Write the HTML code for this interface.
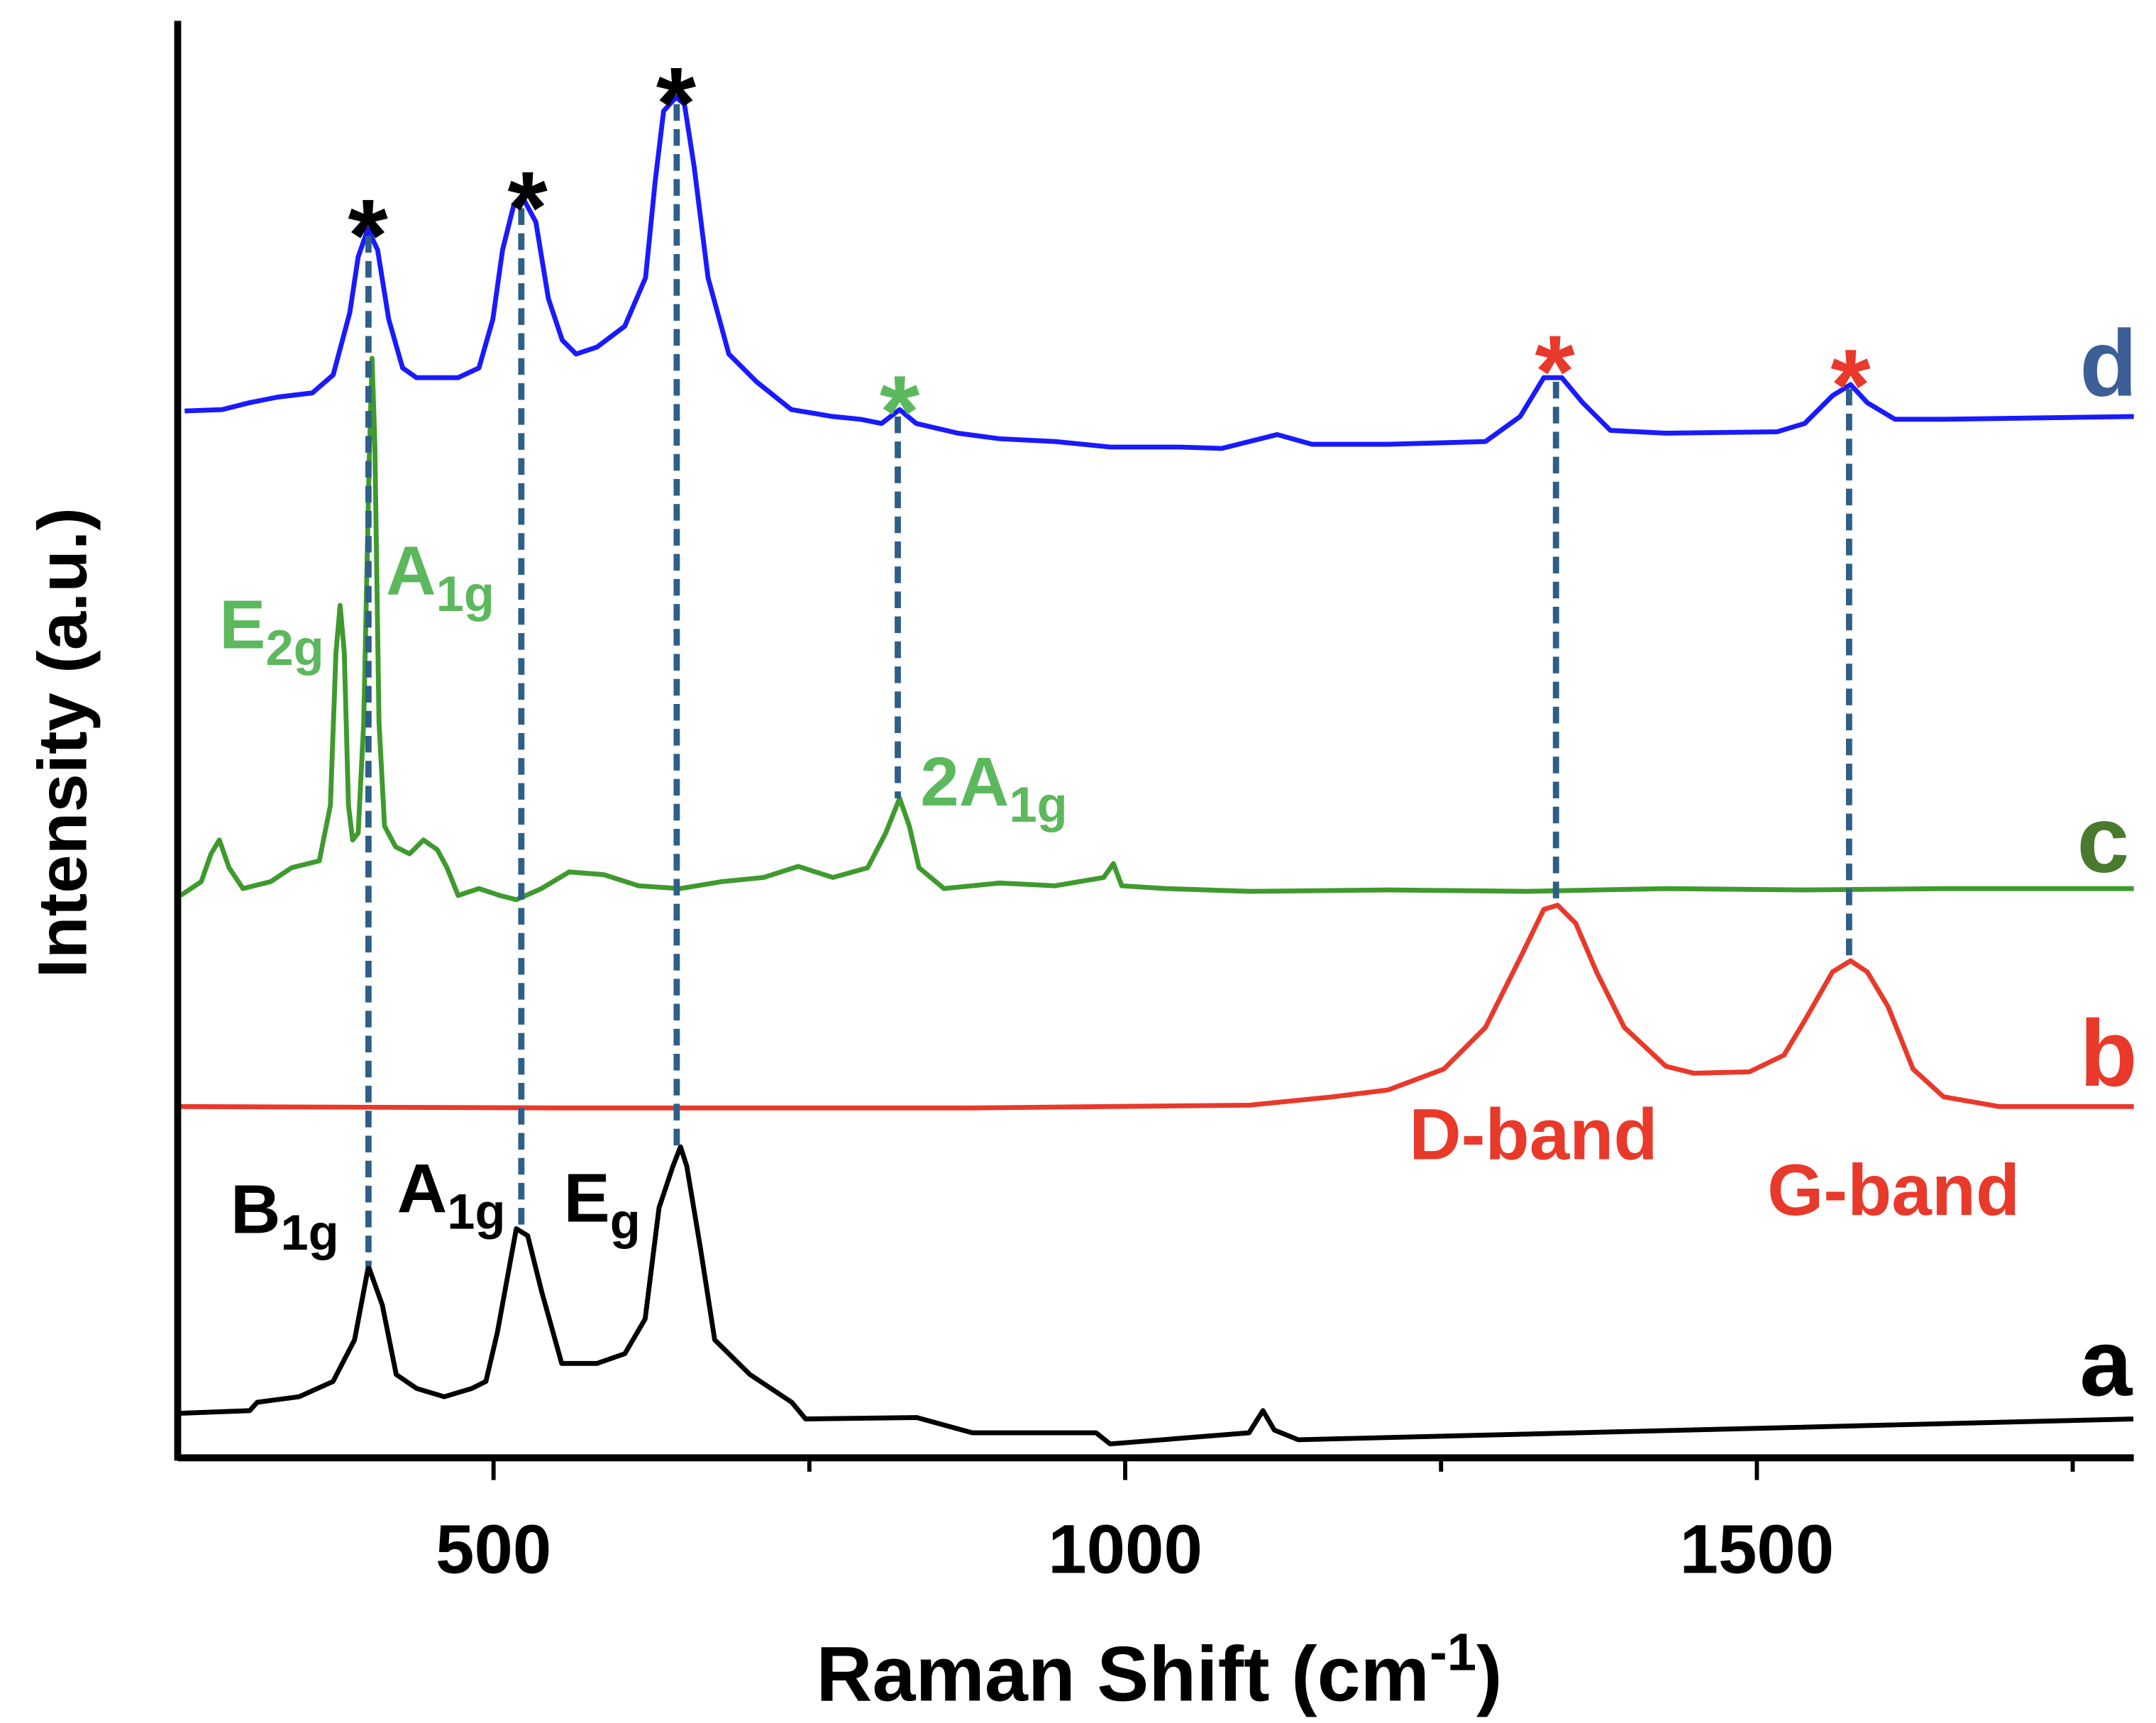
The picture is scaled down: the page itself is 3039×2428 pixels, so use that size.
<!DOCTYPE html>
<html><head><meta charset="utf-8"><style>html,body{margin:0;padding:0;background:#fff}svg{display:block}text{font-family:"Liberation Sans",Arial,sans-serif;font-weight:bold}</style></head>
<body>
<svg id="chart" width="3039" height="2428" viewBox="0 0 1553 1241" preserveAspectRatio="none" xmlns="http://www.w3.org/2000/svg">
<g id="marks"></g>
<g>
<line x1="128" y1="1050" x2="1537" y2="1050" stroke="#000" stroke-width="5"/>
<line x1="128" y1="15" x2="128" y2="1052" stroke="#000" stroke-width="5"/>
</g>
<g id="ticks"></g>
<text x="835" y="1225" font-size="56" text-anchor="middle">Raman Shift (cm<tspan dy="-22" font-size="38">-1</tspan><tspan dy="22">)</tspan></text>
<text transform="translate(62,535) rotate(-90)" font-size="50" text-anchor="middle">Intensity (a.u.)</text>
<g font-size="68">
<text x="1498" y="285" fill="#3b5f96">d</text>
<text x="1496" y="628" fill="#4a7a2e">c</text>
<text x="1498" y="782" fill="#e8392b">b</text>
<text x="1498" y="1005" fill="#000">a</text>
</g>
<g font-size="74" text-anchor="middle">
<text x="265" y="195" fill="#000">*</text>
<text x="380" y="175" fill="#000">*</text>
<text x="487" y="100" fill="#000">*</text>
<text x="648" y="322" fill="#5cb85c">*</text>
<text x="1120" y="293" fill="#e8392b">*</text>
<text x="1333" y="303" fill="#e8392b">*</text>
</g>
<g font-size="50" fill="#5cb85c">
<text x="158" y="467">E<tspan dy="12" font-size="36">2g</tspan></text>
<text x="278" y="428">A<tspan dy="12" font-size="36">1g</tspan></text>
<text x="663" y="580">2A<tspan dy="12" font-size="36">1g</tspan></text>
</g>
<g font-size="52" fill="#e8392b">
<text x="1015" y="835">D-band</text>
<text x="1273" y="875">G-band</text>
</g>
<g font-size="50" fill="#000">
<text x="166" y="888">B<tspan dy="12" font-size="36">1g</tspan></text>
<text x="286" y="873">A<tspan dy="12" font-size="36">1g</tspan></text>
<text x="406" y="880">E<tspan dy="12" font-size="36">g</tspan></text>
</g>
</svg>
<script>
const shiftA=[250,307,313,346,373,390,401,412,423,439,461,483,494,503,518,527,538,554,582,604,620,631,642,648,653,664,675,703,736,747,835,879,977,988,1098,1109,1118,1137,1798];
const intA=[32,34,40,44,55,85,138,110,60,50,44,50,55,90,165,160,120,68,68,75,100,180,210,224,210,150,85,60,40,28,29,18,18,10,18,34,20,13,28];
const pxD=[133,160,180,200,225,240,252,258,265,272,280,290,300,330,345,355,362,370,378,386,395,405,415,430,450,465,472,478,487,493,500,510,525,545,570,600,620,635,648,660,690,720,760,800,850,880,920,945,1000,1070,1095,1112,1125,1140,1160,1200,1280,1300,1320,1333,1345,1365,1400,1537];
const pyD=[296,295,290,286,283,270,225,185,165,180,230,265,272,272,265,230,180,148,145,160,215,245,255,250,235,200,130,80,70,75,120,200,255,275,295,300,302,305,295,305,312,316,318,322,322,323,313,320,320,318,300,272,272,290,310,312,311,305,285,277,290,302,302,300];
const pxC=[130,145,152,158,165,175,195,210,230,238,242,245,248,251,254,258,262,266,268,270,273,277,285,295,305,315,322,330,345,360,372,390,410,435,460,490,520,550,575,600,625,638,648,655,662,680,720,760,795,802,808,840,900,1000,1100,1200,1300,1400,1537];
const pyC=[645,635,615,605,625,640,635,625,620,580,470,436,470,580,605,600,520,330,258,320,520,595,610,615,605,612,625,645,640,645,648,640,628,630,638,640,635,632,624,632,625,600,575,595,625,640,636,638,632,622,638,640,642,641,642,640,641,640,640];
const pxB=[130,400,700,900,960,1000,1040,1070,1095,1112,1122,1135,1150,1170,1200,1220,1260,1285,1300,1320,1333,1345,1360,1378,1400,1440,1537];
const pyB=[797,798,798,796,790,785,770,740,690,655,652,665,700,740,768,773,772,760,735,700,692,700,725,770,790,797,797];
const peakShifts=[401,522,645,820,1341,1573];
const peakTops=[880,900,975,750,775,770];
const peakBottoms=[138,165,224,475,398,358];
const xTicks=[500,1000,1500];
const minorTicks=[750,1250,1750];
const X=v=>128+(v-250)*0.91;
const Xi=p=>250+(p-128)/0.91;
const Y=v=>1050-v;
const NS='http://www.w3.org/2000/svg';
const marks=document.getElementById('marks');
function path(xs,ys,color,name,w){
  const p=document.createElementNS(NS,'path');
  p.setAttribute('d',xs.map((x,i)=>(i?'L':'M')+X(x).toFixed(1)+' '+Y(ys[i]).toFixed(1)).join(''));
  p.setAttribute('fill','none');p.setAttribute('stroke',color);p.setAttribute('stroke-width',w);p.setAttribute('stroke-linejoin','round');
  
  
  marks.appendChild(p);
}
path(shiftA,intA,'#000','series-a',3.5);
path(pxB.map(Xi),pyB.map(v=>1050-v),'#e8392b','series-b',3.5);
path(pxC.map(Xi),pyC.map(v=>1050-v),'#3f9a2e','series-c',3.5);
path(pxD.map(Xi),pyD.map(v=>1050-v),'#1a1aff','series-d',3.5);
peakShifts.forEach((s,i)=>{
  const l=document.createElementNS(NS,'line');
  l.setAttribute('x1',X(s));l.setAttribute('x2',X(s));
  l.setAttribute('y1',Y(peakTops[i]));l.setAttribute('y2',Y(peakBottoms[i]));
  l.setAttribute('stroke','#2e5f88');l.setAttribute('stroke-width','4.5');l.setAttribute('stroke-dasharray','12 6');
  
  
  marks.appendChild(l);
});
const ticks=document.getElementById('ticks');
xTicks.forEach(t=>{
  const l=document.createElementNS(NS,'line');
  l.setAttribute('x1',X(t));l.setAttribute('x2',X(t));l.setAttribute('y1',1050);l.setAttribute('y2',1066);
  l.setAttribute('stroke','#000');l.setAttribute('stroke-width','3');
  
  
  ticks.appendChild(l);
  const tx=document.createElementNS(NS,'text');
  tx.setAttribute('x',X(t));tx.setAttribute('y',1133);tx.setAttribute('text-anchor','middle');tx.setAttribute('font-size','50');
  tx.textContent=t;
  
  
  ticks.appendChild(tx);
});
minorTicks.forEach(t=>{
  const l=document.createElementNS(NS,'line');
  l.setAttribute('x1',X(t));l.setAttribute('x2',X(t));l.setAttribute('y1',1050);l.setAttribute('y2',1060);
  l.setAttribute('stroke','#000');l.setAttribute('stroke-width','3');
  
  
  ticks.appendChild(l);
});
</script>
</body></html>
